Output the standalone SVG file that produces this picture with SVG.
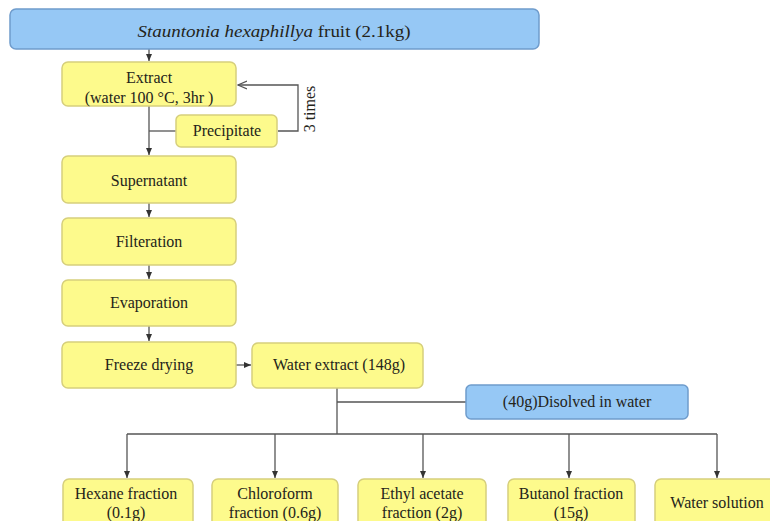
<svg xmlns="http://www.w3.org/2000/svg" width="770" height="521" viewBox="0 0 770 521">
<style>
text{font-family:"Liberation Serif","Times New Roman",serif;fill:#24241a;text-anchor:middle;font-size:16px}
.y{fill:#fdfa8c;stroke:#d6cf7c;stroke-width:1.5}
.b{fill:#96c8f5;stroke:#6f9ccc;stroke-width:1.5}
.c{fill:none;stroke:#555;stroke-width:1.3}
</style>
<defs>
<marker id="a" markerWidth="8" markerHeight="8" refX="7" refY="4" orient="auto" markerUnits="userSpaceOnUse"><path d="M0,1 L7,4 L0,7 Z" fill="#333"/></marker>
<marker id="o" markerWidth="10" markerHeight="10" refX="9" refY="5" orient="auto" markerUnits="userSpaceOnUse"><path d="M0,1 L9,5 L0,9" fill="none" stroke="#555" stroke-width="1.2"/></marker>
</defs>
<g id="connectors">
<path class="c" d="M149 49 L149 61" marker-end="url(#a)"/>
<path class="c" d="M149 106 L149 155" marker-end="url(#a)"/>
<path class="c" d="M149 131 L176 131"/>
<path class="c" d="M278 131 L298 131 L298 85 L238 85" marker-end="url(#o)"/>
<path class="c" d="M149 203 L149 217" marker-end="url(#a)"/>
<path class="c" d="M149 265 L149 279" marker-end="url(#a)"/>
<path class="c" d="M149 326 L149 341" marker-end="url(#a)"/>
<path class="c" d="M236 365 L251 365" marker-end="url(#a)"/>
<path class="c" d="M337 388 L337 434"/>
<path class="c" d="M337 402 L466 402"/>
<path class="c" d="M127 434 L717 434"/>
<path class="c" d="M127 434 L127 478" marker-end="url(#a)"/>
<path class="c" d="M275 434 L275 478" marker-end="url(#a)"/>
<path class="c" d="M423 434 L423 478" marker-end="url(#a)"/>
<path class="c" d="M569 434 L569 478" marker-end="url(#a)"/>
<path class="c" d="M717 434 L717 478" marker-end="url(#a)"/>
</g>
<text x="309" y="109" transform="rotate(-90 309 109)" dominant-baseline="central" font-size="16">3 times</text>
<g id="source"><rect class="b" x="10" y="9" width="529" height="40" rx="6"/><text x="274" y="37" font-size="21" textLength="273" lengthAdjust="spacingAndGlyphs"><tspan font-style="italic">Stauntonia hexaphillya</tspan> fruit (2.1kg)</text></g>
<g id="extract"><rect class="y" x="62" y="62" width="174" height="44" rx="6"/><text x="149" y="83">Extract</text><text x="149" y="103">(water 100 °C, 3hr )</text></g>
<g id="precipitate"><rect class="y" x="176" y="115" width="101" height="32" rx="5"/><text x="227" y="136">Precipitate</text></g>
<g id="supernatant"><rect class="y" x="62" y="156" width="174" height="47" rx="6"/><text x="149" y="186">Supernatant</text></g>
<g id="filteration"><rect class="y" x="62" y="218" width="174" height="47" rx="6"/><text x="149" y="247">Filteration</text></g>
<g id="evaporation"><rect class="y" x="62" y="280" width="174" height="46" rx="6"/><text x="149" y="308">Evaporation</text></g>
<g id="freeze"><rect class="y" x="62" y="342" width="174" height="46" rx="6"/><text x="149" y="370">Freeze drying</text></g>
<g id="waterextract"><rect class="y" x="252" y="343" width="171" height="45" rx="6"/><text x="339" y="370">Water extract (148g)</text></g>
<g id="dissolved"><rect class="b" x="466" y="385" width="222" height="34" rx="5"/><text x="577" y="407">(40g)Disolved in water</text></g>
<g id="hexane"><rect class="y" x="63" y="479" width="130" height="52" rx="6"/><text x="126" y="499">Hexane fraction</text><text x="126" y="518">(0.1g)</text></g>
<g id="chloroform"><rect class="y" x="212" y="479" width="126" height="52" rx="6"/><text x="275" y="499">Chloroform</text><text x="275" y="518">fraction (0.6g)</text></g>
<g id="ethyl"><rect class="y" x="358" y="479" width="128" height="52" rx="6"/><text x="422" y="499">Ethyl acetate</text><text x="422" y="518">fraction (2g)</text></g>
<g id="butanol"><rect class="y" x="508" y="479" width="127" height="52" rx="6"/><text x="571" y="499">Butanol fraction</text><text x="571" y="518">(15g)</text></g>
<g id="watersolution"><rect class="y" x="655" y="479" width="124" height="52" rx="6"/><text x="717" y="508">Water solution</text></g>
</svg>
